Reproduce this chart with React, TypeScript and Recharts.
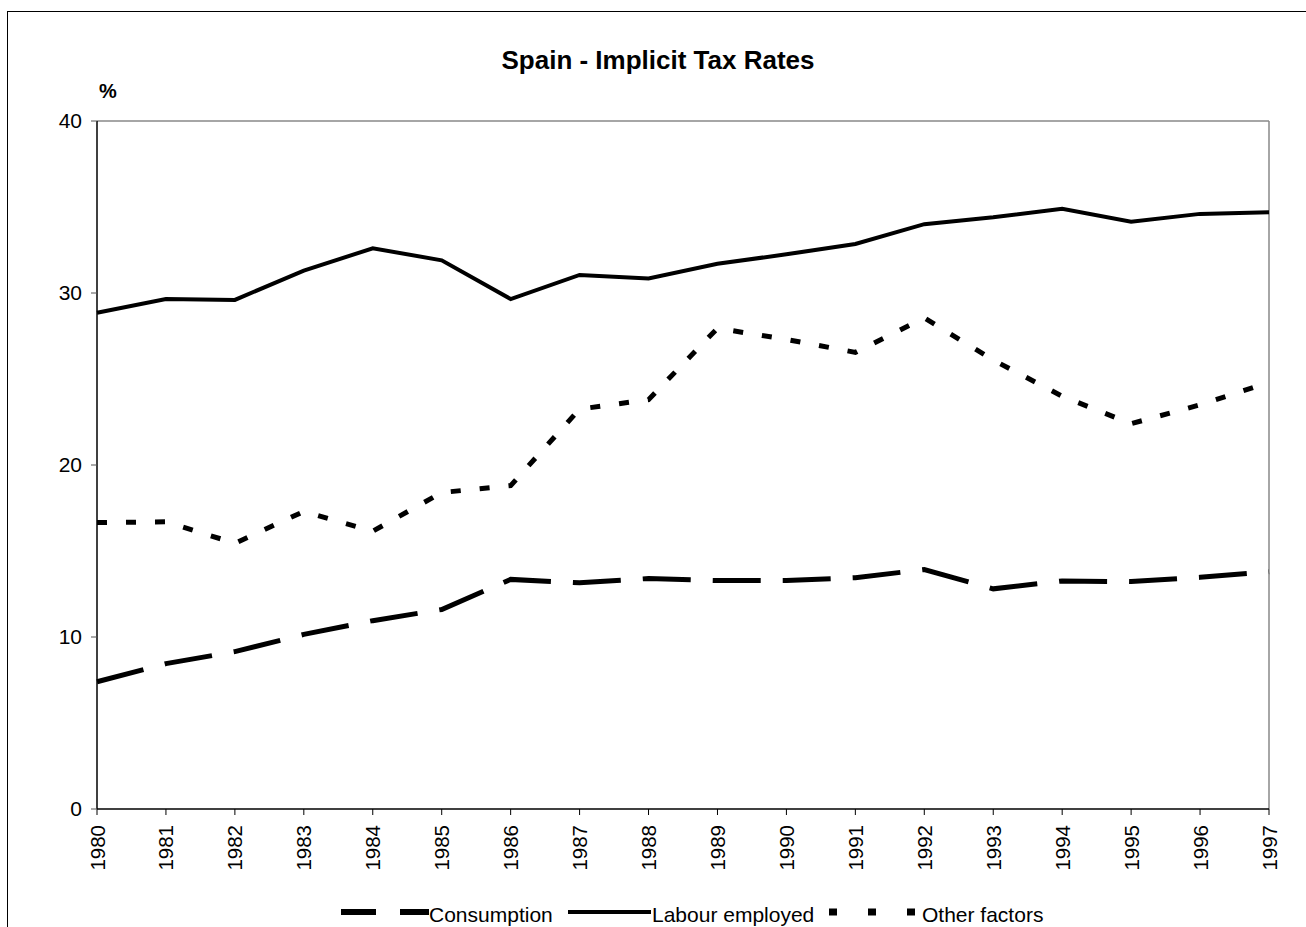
import React from "react";
import { LineChart, Line, XAxis, YAxis, ReferenceLine, Legend } from "recharts";

const years = [
  "1980", "1981", "1982", "1983", "1984", "1985", "1986", "1987", "1988",
  "1989", "1990", "1991", "1992", "1993", "1994", "1995", "1996", "1997",
];

const consumption = [
  7.4, 8.45, 9.15, 10.15, 10.95, 11.6, 13.35, 13.15, 13.4,
  13.28, 13.28, 13.45, 13.92, 12.8, 13.26, 13.22, 13.47, 13.8,
];

const labourEmployed = [
  28.85, 29.65, 29.6, 31.3, 32.6, 31.9, 29.65, 31.05, 30.85,
  31.7, 32.25, 32.85, 34.0, 34.4, 34.9, 34.15, 34.6, 34.7,
];

const otherFactors = [
  16.65, 16.7, 15.45, 17.3, 16.15, 18.4, 18.8, 23.25, 23.8,
  27.95, 27.3, 26.55, 28.55, 26.1, 24.0, 22.4, 23.5, 24.8,
];

const yTicks = [0, 10, 20, 30, 40];

const FONT = 'Arial, "Liberation Sans", sans-serif';

const chartData = years.map((year, i) => ({
  year,
  consumption: consumption[i],
  labour: labourEmployed[i],
  other: otherFactors[i],
}));

function YearTick(props: any) {
  const { x, y, payload } = props;
  return (
    <text
      x={x}
      y={y}
      transform={`rotate(-90, ${x}, ${y})`}
      textAnchor="end"
      dominantBaseline="central"
      fontSize={20.5}
      fontFamily={FONT}
      fill="#000"
    >
      {payload.value}
    </text>
  );
}

function ChartLegend() {
  const textStyle: React.CSSProperties = {
    position: "absolute",
    top: 0,
    fontSize: 21,
    fontFamily: FONT,
    color: "#000",
    lineHeight: "24px",
    whiteSpace: "nowrap",
  };
  return (
    <div style={{ position: "relative", width: 1306, height: 24 }}>
      <svg width={1306} height={24} style={{ position: "absolute", left: 0, top: 0 }}>
        <line x1={341} y1={9} x2={429} y2={9} stroke="#000" strokeWidth={6} strokeDasharray="35 24" />
        <line x1={568} y1={9} x2={651} y2={9} stroke="#000" strokeWidth={4} />
        <line x1={829} y1={9} x2={915} y2={9} stroke="#000" strokeWidth={7} strokeDasharray="8 31" />
      </svg>
      <span style={{ ...textStyle, left: 429 }}>Consumption</span>
      <span style={{ ...textStyle, left: 652 }}>Labour employed</span>
      <span style={{ ...textStyle, left: 922 }}>Other factors</span>
    </div>
  );
}

export default function App() {
  return (
    <div style={{ position: "fixed", left: 0, top: 0, width: 1306, height: 927, overflow: "hidden", background: "#fff" }}>
      <div
        style={{
          position: "absolute",
          left: 7,
          top: 11,
          width: 1299,
          height: 916,
          borderTop: "1px solid #000",
          borderLeft: "1px solid #000",
          boxSizing: "border-box",
        }}
      />
      <div
        style={{
          position: "absolute",
          left: 0,
          width: 1316,
          top: 44,
          textAlign: "center",
          fontFamily: FONT,
          fontWeight: "bold",
          fontSize: 26,
          lineHeight: "32px",
        }}
      >
        Spain - Implicit Tax Rates
      </div>
      <div
        style={{
          position: "absolute",
          left: 99,
          top: 79,
          fontFamily: FONT,
          fontWeight: "bold",
          fontSize: 20,
          lineHeight: "24px",
        }}
      >
        %
      </div>
      <div style={{ position: "absolute", left: 0, top: 0 }}>
        <LineChart
          width={1306}
          height={927}
          data={chartData}
          margin={{ top: 121, right: 37, left: 37, bottom: 0 }}
        >
          <XAxis
            dataKey="year"
            interval={0}
            height={94}
            axisLine={{ stroke: "#000", strokeWidth: 1.5 }}
            tickLine={{ stroke: "#000" }}
            tickSize={6}
            tickMargin={10}
            tick={<YearTick />}
          />
          <YAxis
            type="number"
            domain={[0, 40]}
            ticks={yTicks}
            width={60}
            axisLine={{ stroke: "#000", strokeWidth: 1.5 }}
            tickLine={{ stroke: "#555" }}
            tickSize={6}
            tickMargin={9}
            tick={{ fontSize: 21, fontFamily: FONT, fill: "#000" }}
          />
          <ReferenceLine y={40} stroke="#888" strokeWidth={1.5} />
          <ReferenceLine x="1997" stroke="#888" strokeWidth={1.5} />
          <Line
            type="linear"
            dataKey="consumption"
            name="Consumption"
            stroke="#000"
            strokeWidth={5}
            strokeDasharray="48 22"
            dot={false}
            isAnimationActive={false}
          />
          <Line
            type="linear"
            dataKey="labour"
            name="Labour employed"
            stroke="#000"
            strokeWidth={4}
            dot={false}
            isAnimationActive={false}
          />
          <Line
            type="linear"
            dataKey="other"
            name="Other factors"
            stroke="#000"
            strokeWidth={5}
            strokeDasharray="10 19"
            dot={false}
            isAnimationActive={false}
          />
          <Legend
            verticalAlign="bottom"
            height={24}
            content={<ChartLegend />}
            wrapperStyle={{ left: 0, width: 1306, bottom: 0 }}
          />
        </LineChart>
      </div>
    </div>
  );
}
